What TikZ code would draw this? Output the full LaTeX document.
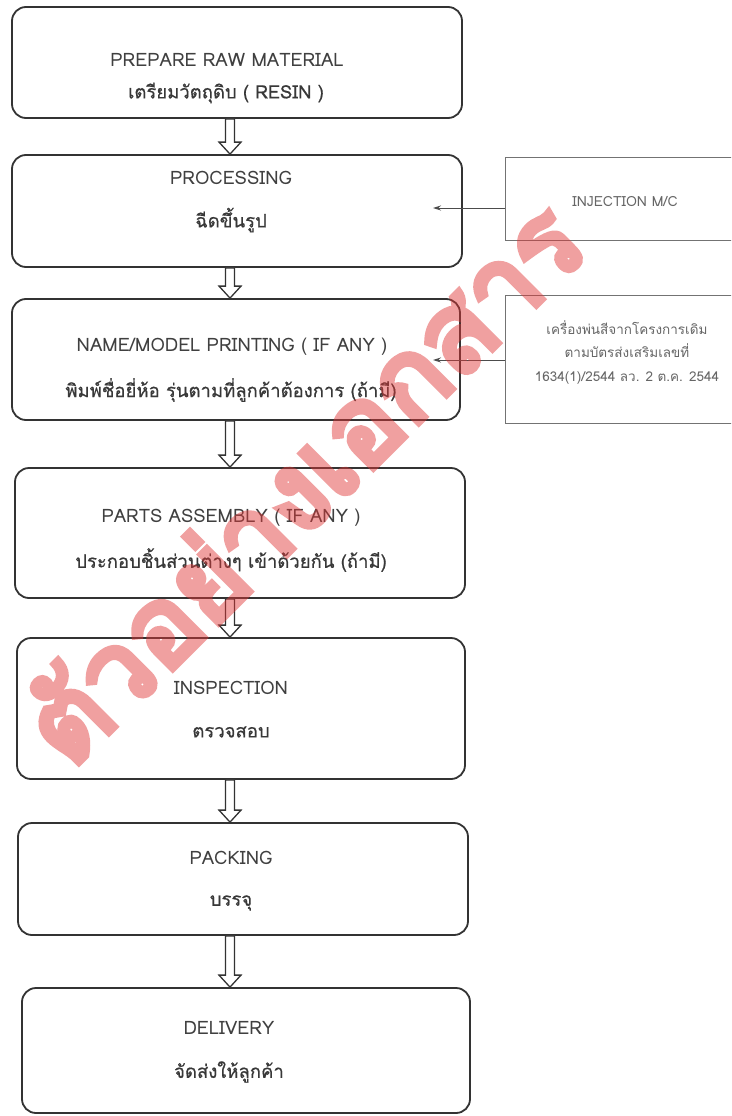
\documentclass[tikz,border=0pt]{standalone}
\usepackage{fontspec}
\setmainfont[Script=Thai]{Loma}
\newfontfamily\wmfont[Script=Thai,FakeBold=6]{Loma}
\newfontfamily\thfont[Script=Thai,FakeBold=0.6]{Loma}
\usetikzlibrary{calc,arrows.meta}
\definecolor{wmred}{RGB}{225,55,55}
\newcommand\hollowarrow[2]{%
  \draw[hollow] let \p1=(#1), \p2=(#2) in
    (\x1-4.5pt,\y1) -- (\x1-4.5pt,\y2+12pt) -- (\x1-11pt,\y2+12pt) -- (\x2,\y2)
    -- (\x1+11pt,\y2+12pt) -- (\x1+4.5pt,\y2+12pt) -- (\x1+4.5pt,\y1) -- cycle;}
\begin{document}
\begin{tikzpicture}[x=1pt,y=-1pt,
  box/.style={draw=black!80, line width=1.8pt, rounded corners=14pt, inner sep=0pt},
  lbl/.style={font=\fontsize{18.5}{22}\selectfont, text=black!75, inner sep=0pt},
  thl/.style={font=\thfont\fontsize{18.5}{22}\selectfont, text=black!78, inner sep=0pt},
  side/.style={draw=black!55, line width=0.9pt, inner sep=0pt},
  slbl/.style={font=\fontsize{14}{16}\selectfont, text=black!60, inner sep=0pt},
  hollow/.style={draw=black!80, line width=1.3pt, fill=white},
  feed/.style={draw=black!70, line width=0.9pt, -{Stealth[length=8pt,width=5pt]}}]
\clip (0,0) rectangle (731,1116);
\fill[white] (0,0) rectangle (731,1116);
\coordinate (ax) at (230,0);
% main boxes
\node[box, minimum width=450pt, minimum height=111pt] (b1) at (237,62.5) {};
\node[box, minimum width=450pt, minimum height=112pt] (b2) at (237,211) {};
\node[box, minimum width=448pt, minimum height=121pt] (b3) at (236,359.5) {};
\node[box, minimum width=450pt, minimum height=130pt] (b4) at (240,533) {};
\node[box, minimum width=448pt, minimum height=141pt] (b5) at (241,708.5) {};
\node[box, minimum width=450pt, minimum height=112pt] (b6) at (243,879) {};
\node[box, minimum width=448pt, minimum height=125pt] (b7) at (246,1050.5) {};
% texts
\node[lbl] (t1a) at (227,60) {PREPARE RAW MATERIAL};
\node[thl] (t1b) at (226,93) {เตรียมวัตถุดิบ ( RESIN )};
\node[lbl] (t2a) at (231,178) {PROCESSING};
\node[thl] (t2b) at (231,220) {ฉีดขึ้นรูป};
\node[lbl] (t3a) at (232,347) {NAME/MODEL PRINTING ( IF ANY )};
\node[thl] (t3b) at (231,390) {พิมพ์ชื่อยี่ห้อ รุ่นตามที่ลูกค้าต้องการ (ถ้ามี)};
\node[lbl] (t4a) at (231,518) {PARTS ASSEMBLY ( IF ANY )};
\node[thl] (t4b) at (231,560) {ประกอบชิ้นส่วนต่างๆ เข้าด้วยกัน (ถ้ามี)};
\node[lbl] (t5a) at (231,688) {INSPECTION};
\node[thl] (t5b) at (231,732) {ตรวจสอบ};
\node[lbl] (t6a) at (231,858) {PACKING};
\node[thl] (t6b) at (231,903) {บรรจุ};
\node[lbl] (t7a) at (229,1028) {DELIVERY};
\node[thl] (t7b) at (229,1072) {จัดส่งให้ลูกค้า};
% hollow arrows
\hollowarrow{b1.south -| ax}{b2.north -| ax}
\hollowarrow{b2.south -| ax}{b3.north -| ax}
\hollowarrow{b3.south -| ax}{b4.north -| ax}
\hollowarrow{b4.south -| ax}{b5.north -| ax}
\hollowarrow{b5.south -| ax}{b6.north -| ax}
\hollowarrow{b6.south -| ax}{b7.north -| ax}
% side boxes
\node[side, minimum width=260pt, minimum height=83pt, anchor=north west] (s1) at (505,157) {};
\node[slbl] (u1) at (625,202) {INJECTION M/C};
\node[side, minimum width=260pt, minimum height=128pt, anchor=north west] (s2) at (505,295) {};
\node[slbl, align=center, font=\fontsize{13.5}{23.5}\selectfont] (u2) at (627,352) {เครื่องพ่นสีจากโครงการเดิม\\ตามบัตรส่งเสริมเลขที่\\1634(1)/2544 ลว. 2 ต.ค. 2544};
\coordinate (f1) at (433,208);
\coordinate (f2) at (433,360);
\draw[feed] (s1.west |- f1) -- (f1);
\draw[feed] (s2.west |- f2) -- (f2);
% watermark
\begin{scope}[transparency group, opacity=0.47]
\node[rotate=45, text=wmred, inner sep=0pt,
      font=\wmfont\fontsize{110}{120}\selectfont] (wm) at (300,480) {ตัวอย่างเอกสาร};
\end{scope}
\end{tikzpicture}
\end{document}
